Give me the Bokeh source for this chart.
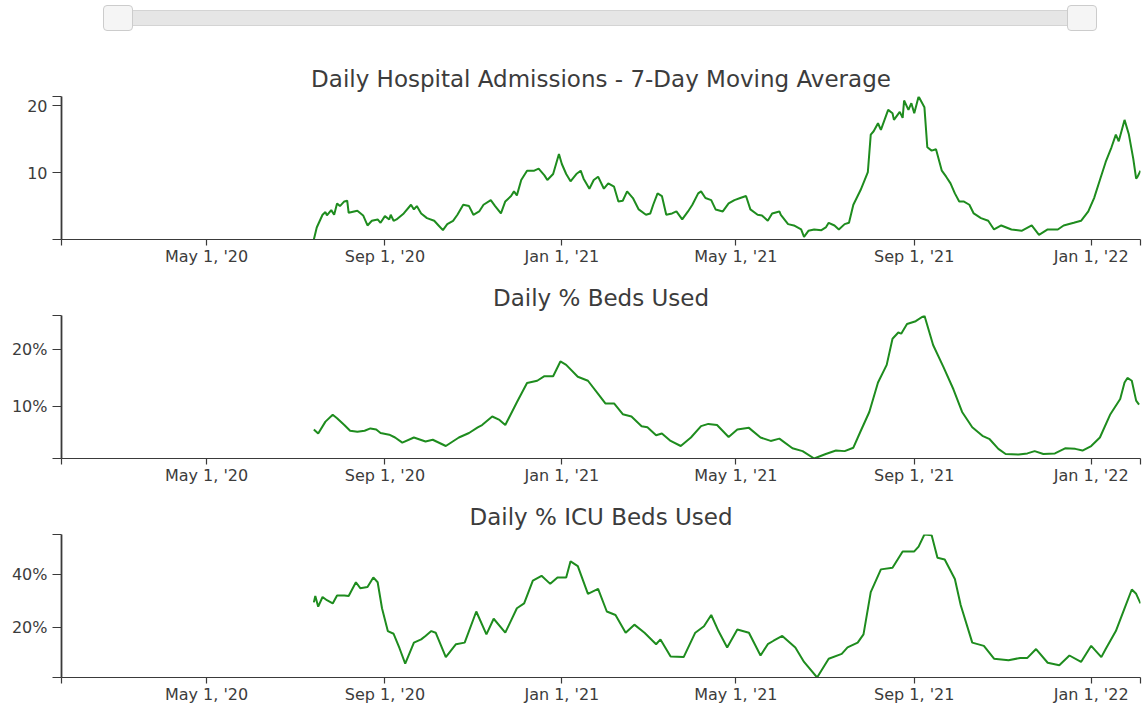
import pandas as pd
from bokeh.plotting import figure
from bokeh.models import (Range1d, FixedTicker, DatetimeTickFormatter,
                          PrintfTickFormatter, DateRangeSlider, InlineStyleSheet)
from bokeh.layouts import column
from bokeh.embed import file_html
from bokeh.resources import INLINE

# ---------------- data ----------------
x_start = "2020-01-22"
x_end = "2022-02-04"
tick_dates = ["2020-05-01", "2020-09-01", "2021-01-01",
              "2021-05-01", "2021-09-01", "2022-01-01"]

titles = ["Daily Hospital Admissions - 7-Day Moving Average",
          "Daily % Beds Used",
          "Daily % ICU Beds Used"]

adm_dates = [
    "2020-07-14", "2020-07-16", "2020-07-20", "2020-07-22", "2020-07-23", "2020-07-26", "2020-07-28", "2020-07-30", "2020-08-01", "2020-08-04",
    "2020-08-06", "2020-08-07", "2020-08-13", "2020-08-17", "2020-08-20", "2020-08-23", "2020-08-27", "2020-08-29", "2020-09-01", "2020-09-04",
    "2020-09-05", "2020-09-07", "2020-09-09", "2020-09-14", "2020-09-19", "2020-09-21", "2020-09-23", "2020-09-26", "2020-09-30", "2020-10-05",
    "2020-10-08", "2020-10-11", "2020-10-14", "2020-10-18", "2020-10-21", "2020-10-25", "2020-10-29", "2020-11-01", "2020-11-05", "2020-11-08",
    "2020-11-13", "2020-11-16", "2020-11-20", "2020-11-23", "2020-11-27", "2020-11-29", "2020-12-01", "2020-12-04", "2020-12-08", "2020-12-13",
    "2020-12-16", "2020-12-20", "2020-12-22", "2020-12-26", "2020-12-30", "2021-01-01", "2021-01-04", "2021-01-07", "2021-01-11", "2021-01-14",
    "2021-01-16", "2021-01-20", "2021-01-23", "2021-01-26", "2021-01-30", "2021-02-02", "2021-02-06", "2021-02-09", "2021-02-12", "2021-02-15",
    "2021-02-19", "2021-02-23", "2021-02-28", "2021-03-03", "2021-03-05", "2021-03-08", "2021-03-11", "2021-03-14", "2021-03-18", "2021-03-21",
    "2021-03-25", "2021-03-29", "2021-04-01", "2021-04-05", "2021-04-07", "2021-04-10", "2021-04-14", "2021-04-17", "2021-04-22", "2021-04-26",
    "2021-04-30", "2021-05-04", "2021-05-08", "2021-05-11", "2021-05-16", "2021-05-19", "2021-05-23", "2021-05-26", "2021-05-31", "2021-06-01",
    "2021-06-06", "2021-06-10", "2021-06-15", "2021-06-17", "2021-06-20", "2021-06-24", "2021-06-29", "2021-07-02", "2021-07-04", "2021-07-08",
    "2021-07-11", "2021-07-15", "2021-07-18", "2021-07-21", "2021-07-26", "2021-07-31", "2021-08-02", "2021-08-04", "2021-08-07", "2021-08-09",
    "2021-08-14", "2021-08-17", "2021-08-18", "2021-08-22", "2021-08-24", "2021-08-25", "2021-08-28", "2021-08-30", "2021-09-01", "2021-09-04",
    "2021-09-08", "2021-09-10", "2021-09-13", "2021-09-16", "2021-09-20", "2021-09-23", "2021-09-26", "2021-09-29", "2021-10-02", "2021-10-05",
    "2021-10-09", "2021-10-12", "2021-10-17", "2021-10-22", "2021-10-26", "2021-10-31", "2021-11-07", "2021-11-14", "2021-11-21", "2021-11-26",
    "2021-12-02", "2021-12-09", "2021-12-13", "2021-12-20", "2021-12-25", "2021-12-30", "2022-01-03", "2022-01-07", "2022-01-11", "2022-01-15",
    "2022-01-18", "2022-01-20", "2022-01-24", "2022-01-27", "2022-01-30", "2022-02-01", "2022-02-02", "2022-02-04",
]
adm_values = [
    0.0, 1.8, 3.7, 4.1, 3.6, 4.4, 3.7, 5.4, 5.0, 5.7,
    5.8, 4.0, 4.3, 3.6, 2.1, 2.8, 3.0, 2.5, 3.5, 3.0,
    3.7, 2.8, 3.0, 3.9, 5.2, 4.5, 5.0, 3.9, 3.2, 2.8,
    2.1, 1.4, 2.3, 2.8, 3.7, 5.2, 5.0, 3.7, 4.2, 5.2,
    5.9, 5.0, 3.9, 5.7, 6.5, 7.2, 6.6, 8.9, 10.3, 10.3,
    10.6, 9.6, 8.9, 9.8, 12.8, 11.3, 9.8, 8.7, 9.8, 10.3,
    9.1, 7.6, 8.9, 9.4, 7.6, 8.4, 7.9, 5.7, 5.8, 7.2,
    6.2, 4.5, 3.7, 3.9, 5.2, 6.9, 6.5, 3.7, 3.9, 4.2,
    3.0, 4.2, 5.2, 6.9, 7.2, 6.2, 5.9, 4.5, 4.2, 5.4,
    5.9, 6.2, 6.5, 4.5, 3.7, 3.6, 2.8, 3.9, 4.2, 3.7,
    2.3, 2.1, 1.5, 0.4, 1.3, 1.5, 1.4, 1.8, 2.5, 2.1,
    1.5, 2.3, 2.5, 5.2, 7.4, 10.1, 15.7, 16.2, 17.4, 16.4,
    19.4, 18.9, 17.9, 19.1, 18.2, 20.8, 19.4, 20.4, 18.9, 21.4,
    19.8, 13.8, 13.3, 13.5, 10.3, 9.4, 8.4, 6.9, 5.7, 5.7,
    5.2, 3.9, 3.2, 2.8, 1.5, 2.1, 1.5, 1.3, 2.1, 0.7,
    1.5, 1.5, 2.1, 2.5, 2.8, 4.2, 6.2, 8.9, 11.6, 13.8,
    15.7, 14.7, 17.9, 15.7, 12.1, 9.1, 9.4, 10.3,
]

beds_dates = [
    "2020-07-14", "2020-07-17", "2020-07-22", "2020-07-27", "2020-07-30", "2020-08-04", "2020-08-08", "2020-08-13", "2020-08-18", "2020-08-22",
    "2020-08-26", "2020-08-29", "2020-09-04", "2020-09-08", "2020-09-13", "2020-09-21", "2020-09-29", "2020-10-04", "2020-10-13", "2020-10-22",
    "2020-10-29", "2020-11-04", "2020-11-07", "2020-11-14", "2020-11-19", "2020-11-23", "2020-12-01", "2020-12-08", "2020-12-15", "2020-12-20",
    "2020-12-26", "2020-12-31", "2021-01-04", "2021-01-12", "2021-01-19", "2021-01-26", "2021-01-31", "2021-02-06", "2021-02-12", "2021-02-18",
    "2021-02-25", "2021-03-01", "2021-03-07", "2021-03-11", "2021-03-17", "2021-03-24", "2021-03-31", "2021-04-07", "2021-04-12", "2021-04-18",
    "2021-04-26", "2021-05-02", "2021-05-10", "2021-05-18", "2021-05-25", "2021-05-31", "2021-06-09", "2021-06-16", "2021-06-24", "2021-07-02",
    "2021-07-09", "2021-07-15", "2021-07-21", "2021-07-26", "2021-08-01", "2021-08-07", "2021-08-13", "2021-08-17", "2021-08-21", "2021-08-23",
    "2021-08-27", "2021-09-02", "2021-09-08", "2021-09-14", "2021-09-21", "2021-09-28", "2021-10-04", "2021-10-11", "2021-10-18", "2021-10-23",
    "2021-10-29", "2021-11-03", "2021-11-12", "2021-11-18", "2021-11-23", "2021-11-29", "2021-12-07", "2021-12-14", "2021-12-21", "2021-12-26",
    "2022-01-01", "2022-01-07", "2022-01-14", "2022-01-21", "2022-01-24", "2022-01-26", "2022-01-29", "2022-02-01", "2022-02-03",
]
beds_values = [
    5.9, 5.2, 7.3, 8.5, 7.9, 6.7, 5.7, 5.5, 5.7, 6.1,
    5.9, 5.3, 5.0, 4.5, 3.6, 4.5, 3.8, 4.1, 3.0, 4.5,
    5.3, 6.3, 6.7, 8.2, 7.6, 6.7, 10.7, 14.1, 14.5, 15.3,
    15.3, 17.9, 17.3, 15.2, 14.5, 12.2, 10.5, 10.5, 8.6, 8.2,
    6.5, 6.3, 4.9, 5.2, 3.9, 3.0, 4.5, 6.5, 6.9, 6.7,
    4.6, 5.9, 6.2, 4.5, 3.9, 4.3, 2.6, 2.1, 0.8, 1.6,
    2.2, 2.1, 2.7, 5.6, 9.0, 14.2, 17.3, 21.9, 23.0, 22.8,
    24.5, 25.0, 26.0, 20.8, 17.0, 13.0, 9.0, 6.3, 4.8, 4.2,
    2.5, 1.6, 1.5, 1.7, 2.1, 1.6, 1.7, 2.6, 2.5, 2.2,
    3.0, 4.5, 8.5, 11.3, 14.2, 15.0, 14.5, 11.0, 10.3,
]

icu_dates = [
    "2020-07-14", "2020-07-15", "2020-07-17", "2020-07-20", "2020-07-23", "2020-07-27", "2020-07-30", "2020-08-04", "2020-08-07", "2020-08-12",
    "2020-08-15", "2020-08-20", "2020-08-24", "2020-08-27", "2020-08-30", "2020-09-03", "2020-09-07", "2020-09-11", "2020-09-15", "2020-09-21",
    "2020-09-26", "2020-09-29", "2020-10-03", "2020-10-06", "2020-10-13", "2020-10-20", "2020-10-26", "2020-11-03", "2020-11-10", "2020-11-15",
    "2020-11-23", "2020-12-01", "2020-12-06", "2020-12-12", "2020-12-18", "2020-12-24", "2020-12-29", "2021-01-04", "2021-01-07", "2021-01-12",
    "2021-01-19", "2021-01-26", "2021-02-01", "2021-02-07", "2021-02-14", "2021-02-20", "2021-02-27", "2021-03-07", "2021-03-10", "2021-03-17",
    "2021-03-26", "2021-04-03", "2021-04-09", "2021-04-14", "2021-04-19", "2021-04-25", "2021-05-02", "2021-05-10", "2021-05-18", "2021-05-23",
    "2021-05-27", "2021-06-02", "2021-06-11", "2021-06-17", "2021-06-26", "2021-07-04", "2021-07-13", "2021-07-17", "2021-07-24", "2021-07-28",
    "2021-08-02", "2021-08-09", "2021-08-17", "2021-08-24", "2021-09-01", "2021-09-04", "2021-09-08", "2021-09-13", "2021-09-17", "2021-09-22",
    "2021-09-29", "2021-10-03", "2021-10-11", "2021-10-19", "2021-10-26", "2021-11-05", "2021-11-13", "2021-11-18", "2021-11-24", "2021-12-02",
    "2021-12-10", "2021-12-17", "2021-12-25", "2022-01-01", "2022-01-08", "2022-01-11", "2022-01-18", "2022-01-24", "2022-01-29", "2022-02-01",
    "2022-02-04",
]
icu_values = [
    29.5, 31.9, 27.9, 31.5, 30.3, 29.1, 32.1, 32.1, 31.9, 37.0,
    34.8, 35.2, 38.8, 37.0, 27.3, 18.8, 17.8, 12.5, 6.7, 14.5,
    15.7, 17.0, 18.8, 18.2, 9.1, 13.9, 14.5, 26.1, 17.6, 23.4,
    18.2, 27.3, 29.1, 37.6, 39.4, 36.4, 38.8, 38.8, 44.8, 43.0,
    32.7, 34.5, 26.1, 24.8, 18.2, 21.2, 18.2, 13.9, 15.7, 9.3,
    9.1, 18.2, 20.6, 24.8, 18.8, 12.7, 19.4, 18.2, 9.7, 13.9,
    15.2, 17.0, 12.7, 7.3, 1.5, 8.5, 10.3, 12.7, 14.5, 17.6,
    33.3, 41.8, 42.4, 48.5, 48.5, 50.3, 54.8, 54.5, 46.1, 45.5,
    38.2, 28.5, 14.5, 13.3, 8.5, 7.9, 8.8, 8.8, 12.1, 7.0,
    6.1, 9.7, 7.3, 13.3, 9.1, 12.1, 18.8, 27.3, 34.3, 32.7,
    29.1,
]

adm_ticks = [10, 20]
beds_ticks = [10, 20]
icu_ticks = [20, 40]

# ---------------- styling helpers ----------------
LINE_COLOR = "#1e8c1e"
TEXT_COLOR = "#3c3c3c"
AXIS_COLOR = "#3a3a3a"


def to_ms(d):
    return pd.Timestamp(d).value // 10**6


x0 = pd.Timestamp(x_start)
x1 = pd.Timestamp(x_end)
date_fmt = "%b %-d, '%y"


def make_chart(title, dates, values, ticks, label_fmt):
    xs = pd.to_datetime(dates)
    ymin, ymax = min(values), max(values)
    p = figure(width=1145, height=219, x_axis_type="datetime",
               x_range=Range1d(x0, x1), y_range=Range1d(ymin, ymax),
               output_backend="svg", toolbar_location=None,
               min_border_left=61, min_border_right=5,
               min_border_top=47, min_border_bottom=26,
               background_fill_color="white", border_fill_color="white")
    p.outline_line_color = None
    p.xgrid.visible = False
    p.ygrid.visible = False

    p.title.text = title
    p.title.align = "center"
    p.title.text_font = "DejaVu Sans"
    p.title.text_font_size = "23px"
    p.title.text_font_style = "normal"
    p.title.text_color = TEXT_COLOR
    p.title.standoff = 10

    p.line(xs, values, line_color=LINE_COLOR, line_width=2)

    xa = p.xaxis[0]
    xa.ticker = FixedTicker(ticks=[to_ms(d) for d in tick_dates],
                            minor_ticks=[to_ms(x_start), to_ms(x_end)])
    xa.formatter = DatetimeTickFormatter(days=date_fmt, months=date_fmt,
                                         years=date_fmt, hours=date_fmt,
                                         hourmin=date_fmt)
    xa.axis_line_color = AXIS_COLOR
    xa.axis_line_width = 1.2
    xa.major_tick_line_color = AXIS_COLOR
    xa.minor_tick_line_color = AXIS_COLOR
    xa.major_tick_line_width = 1.2
    xa.minor_tick_line_width = 1.2
    xa.major_tick_in = 0
    xa.major_tick_out = 6
    xa.minor_tick_in = 0
    xa.minor_tick_out = 6
    xa.major_label_standoff = 1
    xa.major_label_text_font = "DejaVu Sans"
    xa.major_label_text_font_size = "16px"
    xa.major_label_text_color = TEXT_COLOR

    ya = p.yaxis[0]
    ya.ticker = FixedTicker(ticks=ticks, minor_ticks=[ymin, ymax])
    ya.formatter = PrintfTickFormatter(format=label_fmt)
    ya.axis_line_color = AXIS_COLOR
    ya.axis_line_width = 1.8
    ya.major_tick_line_color = AXIS_COLOR
    ya.minor_tick_line_color = AXIS_COLOR
    ya.major_tick_line_width = 1.2
    ya.minor_tick_line_width = 1.2
    ya.major_tick_in = 0
    ya.major_tick_out = 9
    ya.minor_tick_in = 0
    ya.minor_tick_out = 9
    ya.major_label_standoff = 5
    ya.major_label_text_font = "DejaVu Sans"
    ya.major_label_text_font_size = "16px"
    ya.major_label_text_color = TEXT_COLOR
    return p


p1 = make_chart(titles[0], adm_dates, adm_values, adm_ticks, "%d")
p2 = make_chart(titles[1], beds_dates, beds_values, beds_ticks, "%d%%")
p3 = make_chart(titles[2], icu_dates, icu_values, icu_ticks, "%d%%")

slider_css = """
.noUi-target, .bk-noUi-target { background: #e6e6e6 !important; border: 1px solid #d4d4d4 !important;
  border-radius: 2px !important; box-shadow: none !important; }
.noUi-horizontal, .bk-noUi-horizontal { height: 16px !important; }
.noUi-connect, .bk-noUi-connect { background: #e6e6e6 !important; box-shadow: none !important; }
.noUi-horizontal .noUi-handle, .bk-noUi-horizontal .bk-noUi-handle { width: 30px !important; height: 26px !important;
  top: -6px !important; right: -15px !important; border: 1px solid #cccccc !important;
  border-radius: 4px !important; background: #f5f5f5 !important; box-shadow: none !important; }
.noUi-handle::before, .noUi-handle::after, .bk-noUi-handle::before, .bk-noUi-handle::after { display: none !important; }
"""

slider = DateRangeSlider(start=x0, end=x1, value=(x0, x1), step=1, title="",
                         show_value=False, bar_color="#e6e6e6",
                         width=966, height=26, margin=(5, 0, 18, 117),
                         stylesheets=[InlineStyleSheet(css=slider_css)])

layout = column(slider, p1, p2, p3, margin=0)

with open("out.html", "w") as f:
    f.write(file_html(layout, INLINE))
